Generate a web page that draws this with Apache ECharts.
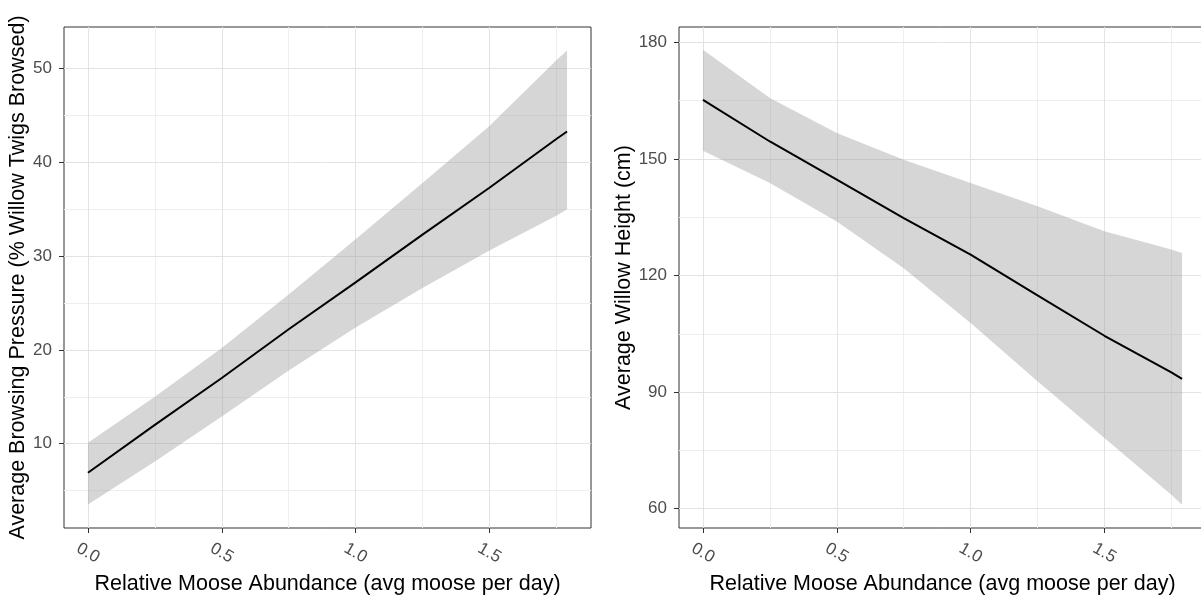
<!doctype html>
<html>
<head>
<meta charset="utf-8">
<title>Moose abundance vs willow browsing and height</title>
<script src="https://cdn.jsdelivr.net/npm/echarts@6/dist/echarts.min.js"></script>
<style>
  html, body { margin: 0; padding: 0; background: #fff; }
  #chart { width: 1201px; height: 595px; }
</style>
</head>
<body>
<div id="chart"></div>
<script type="text/javascript">
// relative moose abundance (avg moose per day)
var moose = [0, 0.25, 0.5, 0.75, 1.0, 1.25, 1.5, 1.75, 1.79];

// left panel: browsing pressure (% willow twigs browsed)
var browseFit  = [6.9, 12.0, 17.0, 22.2, 27.2, 32.3, 37.3, 42.5, 43.3];
var browseLow  = [3.5, 8.1, 12.9, 17.8, 22.4, 26.6, 30.6, 34.3, 35.0];
var browseHigh = [10.1, 15.0, 20.2, 25.9, 31.8, 37.8, 43.9, 50.9, 51.95];

// right panel: willow height (cm)
var heightFit  = [165.2, 154.5, 144.7, 134.8, 125.4, 114.9, 104.5, 95.1, 93.4];
var heightLow  = [152.1, 143.8, 133.9, 121.9, 107.8, 92.8, 78.2, 63.6, 61.0];
var heightHigh = [178.1, 165.7, 156.7, 149.8, 143.8, 137.8, 131.4, 126.7, 125.8];

// ticks
var xTicks = [0, 0.5, 1.0, 1.5];
var xMinor = [0.25, 0.75, 1.25, 1.75];
var browseTicks = [10, 20, 30, 40, 50];
var browseMinor = [5, 15, 25, 35, 45];
var heightTicks = [60, 90, 120, 150, 180];
var heightMinor = [75, 105, 135, 165];

var xTitle = 'Relative Moose Abundance (avg moose per day)';
var browseTitle = 'Average Browsing Pressure (% Willow Twigs Browsed)';
var heightTitle = 'Average Willow Height (cm)';

var FONT = '"Liberation Sans", Arial, sans-serif';

function pairs(xs, ys) {
    return xs.map(function (x, i) { return [x, ys[i]]; });
}
function rows(xs, lo, hi) {
    return xs.map(function (x, i) { return [x, lo[i], hi[i]]; });
}
// background grid lines (major + minor), drawn through the axes
function gridLines(xMaj, xMin, yMaj, yMin) {
    var d = [];
    xMin.forEach(function (v) { d.push({ xAxis: v, lineStyle: { color: '#eeeeee', width: 1 } }); });
    yMin.forEach(function (v) { d.push({ yAxis: v, lineStyle: { color: '#eeeeee', width: 1 } }); });
    xMaj.forEach(function (v) { d.push({ xAxis: v, lineStyle: { color: '#e3e3e3', width: 1 } }); });
    yMaj.forEach(function (v) { d.push({ yAxis: v, lineStyle: { color: '#e3e3e3', width: 1 } }); });
    return {
        silent: true,
        z: 0,
        symbol: ['none', 'none'],
        label: { show: false },
        emphasis: { disabled: true },
        animation: false,
        lineStyle: { type: 'solid' },
        data: d
    };
}

function xAxisDef(gridIndex) {
    return {
        type: 'value',
        gridIndex: gridIndex,
        min: -0.0895,
        max: 1.8795,
        name: xTitle,
        nameLocation: 'middle',
        nameGap: 38,
        nameTextStyle: { color: '#000', fontSize: 21.5, fontFamily: FONT },
        axisLine: { show: false, onZero: false },
        axisTick: { show: true, length: 5, customValues: xTicks, lineStyle: { color: '#333' } },
        axisLabel: {
            customValues: xTicks,
            rotate: -30,
            align: 'center',
            verticalAlign: 'middle',
            margin: 25,
            color: '#4d4d4d',
            fontSize: 17,
            fontFamily: FONT,
            formatter: function (v) { return v.toFixed(1); }
        },
        splitLine: { show: false }
    };
}

function yAxisDef(gridIndex, min, max, ticks, title, gap) {
    return {
        type: 'value',
        gridIndex: gridIndex,
        min: min,
        max: max,
        name: title,
        nameLocation: 'middle',
        nameGap: gap,
        nameTextStyle: { color: '#000', fontSize: 21.5, fontFamily: FONT },
        axisLine: { show: false, onZero: false },
        axisTick: { show: true, length: 5, customValues: ticks, lineStyle: { color: '#333' } },
        axisLabel: {
            customValues: ticks,
            margin: 12,
            color: '#4d4d4d',
            fontSize: 17,
            fontFamily: FONT
        },
        splitLine: { show: false }
    };
}

// confidence ribbon: one polygon through all rows, placed with api.coord
function ribbonRenderer(xs, lo, hi) {
    return function (params, api) {
        if (params.dataIndex !== 0) return null;
        var pts = [];
        for (var i = 0; i < xs.length; i++) pts.push(api.coord([xs[i], hi[i]]));
        for (var j = xs.length - 1; j >= 0; j--) pts.push(api.coord([xs[j], lo[j]]));
        return {
            type: 'polygon',
            shape: { points: pts },
            style: { fill: 'rgba(153,153,153,0.4)' }
        };
    };
}

function panelSeries(idx, lo, hi, fit, xMaj, xMin, yMaj, yMin) {
    return [
        {
            type: 'custom', xAxisIndex: idx, yAxisIndex: idx,
            data: rows(moose, lo, hi),
            encode: { x: 0, y: [1, 2] },
            renderItem: ribbonRenderer(moose, lo, hi),
            silent: true,
            z: 2,
            markLine: gridLines(xMaj, xMin, yMaj, yMin)
        },
        {
            type: 'line', xAxisIndex: idx, yAxisIndex: idx,
            data: pairs(moose, fit),
            symbol: 'none',
            lineStyle: { color: '#000', width: 2 },
            z: 3
        }
    ];
}

var option = {
    animation: false,
    backgroundColor: '#fff',
    grid: [
        { left: 64, top: 27, width: 527, height: 501, outerBoundsMode: 'none', containLabel: false,
          show: true, borderColor: '#333', borderWidth: 1, backgroundColor: 'transparent' },
        { left: 679, top: 27, width: 527, height: 501, outerBoundsMode: 'none', containLabel: false,
          show: true, borderColor: '#333', borderWidth: 1, backgroundColor: 'transparent' }
    ],
    xAxis: [xAxisDef(0), xAxisDef(1)],
    yAxis: [
        yAxisDef(0, 1.0, 54.45, browseTicks, browseTitle, 31),
        yAxisDef(1, 55.03, 183.96, heightTicks, heightTitle, 38)
    ],
    series: []
        .concat(panelSeries(0, browseLow, browseHigh, browseFit, xTicks, xMinor, browseTicks, browseMinor))
        .concat(panelSeries(1, heightLow, heightHigh, heightFit, xTicks, xMinor, heightTicks, heightMinor))
};

var myChart = echarts.init(document.getElementById('chart'), null, { renderer: 'canvas' });
myChart.setOption(option);
</script>
</body>
</html>
